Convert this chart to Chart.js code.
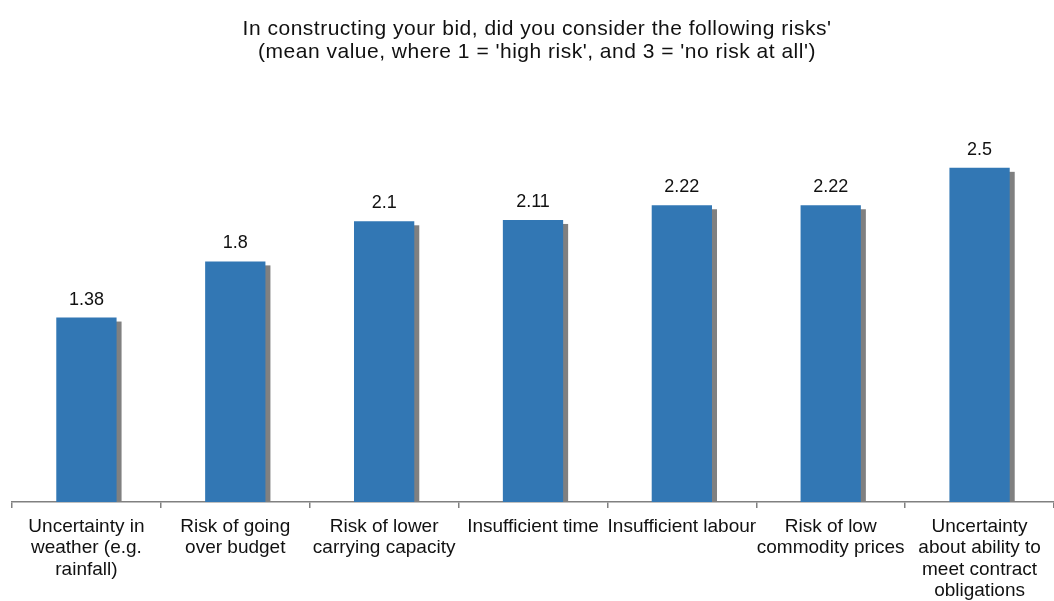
<!DOCTYPE html>
<html>
<head>
<meta charset="utf-8">
<script src="https://cdn.jsdelivr.net/npm/chart.js@4"></script>
<style>
  html, body { margin: 0; padding: 0; background: #fff; overflow: hidden; }
  #wrap { width: 1054px; height: 601px; }
</style>
</head>
<body>
<div id="wrap"><canvas id="chart" width="1054" height="601"></canvas></div>
<script>
const categories = [
  ["Uncertainty in", "weather (e.g.", "rainfall)"],
  ["Risk of going", "over budget"],
  ["Risk of lower", "carrying capacity"],
  "Insufficient time",
  "Insufficient labour",
  ["Risk of low", "commodity prices"],
  ["Uncertainty", "about ability to", "meet contract", "obligations"]
];
const meanValues = [1.38, 1.8, 2.1, 2.11, 2.22, 2.22, 2.5];
const valueLabels = ["1.38", "1.8", "2.1", "2.11", "2.22", "2.22", "2.5"];
const titleLines = [
  "In constructing your bid, did you consider the following risks'",
  "(mean value, where 1 = 'high risk', and 3 = 'no risk at all')"
];

const FONT = "'Liberation Sans', Arial, sans-serif";

// grey drop shadow behind each bar
const barShadow = {
  id: 'barShadow',
  beforeDatasetsDraw(chart) {
    const ctx = chart.ctx;
    const meta = chart.getDatasetMeta(0);
    ctx.save();
    ctx.fillStyle = '#808080';
    meta.data.forEach(bar => {
      const w = bar.width;
      ctx.fillRect(bar.x - w / 2 + 5, bar.y + 4, w, bar.base - bar.y - 4);
    });
    ctx.restore();
  }
};

// value labels above bars + the two-line heading (slightly wide letter spacing)
const textLayer = {
  id: 'textLayer',
  afterDraw(chart) {
    const ctx = chart.ctx;
    const meta = chart.getDatasetMeta(0);
    ctx.save();
    ctx.fillStyle = '#111';
    ctx.textAlign = 'center';
    ctx.textBaseline = 'middle';
    ctx.font = '18px ' + FONT;
    meta.data.forEach((bar, i) => {
      ctx.fillText(valueLabels[i], bar.x, bar.y - 18);
    });

    ctx.font = '21px ' + FONT;
    ctx.letterSpacing = '0.5px';
    titleLines.forEach((line, i) => {
      ctx.fillText(line, 537, 29 + i * 23);
    });
    ctx.restore();
  }
};

new Chart(document.getElementById('chart'), {
  type: 'bar',
  data: {
    labels: categories,
    datasets: [{
      data: meanValues,
      backgroundColor: '#3277B4',
      borderWidth: 0,
      categoryPercentage: 1.0,
      barPercentage: 0.405
    }]
  },
  options: {
    responsive: false,
    animation: false,
    layout: { padding: { left: 12, right: 0, top: 101, bottom: 0 } },
    plugins: {
      legend: { display: false },
      tooltip: { enabled: false },
      title: { display: false }
    },
    scales: {
      x: {
        afterFit(scale) { scale.height = 99; },
        border: { display: true, color: '#808080', width: 1.5 },
        grid: {
          offset: true,
          drawOnChartArea: false,
          drawTicks: true,
          tickLength: 6,
          color: '#808080',
          lineWidth: 1.5
        },
        ticks: {
          autoSkip: false,
          maxRotation: 0,
          minRotation: 0,
          padding: 8,
          color: '#111',
          font: { family: FONT, size: 19, lineHeight: 1.13 }
        }
      },
      y: {
        display: false,
        min: 0,
        max: 3
      }
    }
  },
  plugins: [barShadow, textLayer]
});
</script>
</body>
</html>
